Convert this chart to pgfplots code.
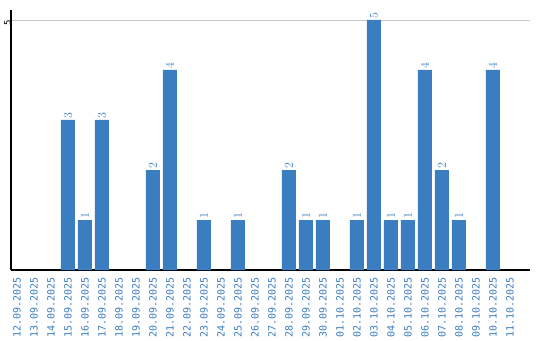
\documentclass[border=0pt]{standalone}
\usepackage{fontspec}
\setmonofont{DejaVu Sans Mono}
\usepackage{pgfplots}
\pgfplotsset{compat=1.18}
\definecolor{barblue}{RGB}{58,125,193}
\begin{document}
\begin{tikzpicture}[x=1pt,y=1pt]
\useasboundingbox (0,0) rectangle (540,340);
\begin{axis}[
  at={(11pt,70pt)}, anchor=south west,
  scale only axis, width=519pt, height=260pt,
  xmin=-0.35, xmax=30.18, ymin=0, ymax=5.2,
  axis x line*=bottom, axis y line*=left,
  axis line style={black, line width=1.4pt},
  x axis line style={-}, y axis line style={-},
  major tick length=0pt,
  xtick={0,...,29},
  xticklabels={12.09.2025,13.09.2025,14.09.2025,15.09.2025,16.09.2025,17.09.2025,18.09.2025,19.09.2025,20.09.2025,21.09.2025,22.09.2025,23.09.2025,24.09.2025,25.09.2025,26.09.2025,27.09.2025,28.09.2025,29.09.2025,30.09.2025,01.10.2025,02.10.2025,03.10.2025,04.10.2025,05.10.2025,06.10.2025,07.10.2025,08.10.2025,09.10.2025,10.10.2025,11.10.2025},
  xticklabel style={rotate=90, anchor=east, text=barblue, font=\ttfamily\fontsize{10}{10}\selectfont, inner sep=0pt, xshift=-7pt},
  ytick={5}, yticklabels={5},
  yticklabel style={rotate=90, anchor=south, font=\ttfamily\fontsize{9}{9}\selectfont, inner sep=0pt, xshift=-2.5pt},
  ymajorgrids, grid style={gray!45, line width=0.8pt},
  ybar, bar width=14pt,
  nodes near coords={\ttfamily\fontsize{11.5}{11.5}\selectfont\pgfmathprintnumber{\pgfplotspointmeta}},
  nodes near coords style={rotate=90, anchor=west, text=barblue, inner sep=1.5pt},
  clip=false,
]
\addplot[fill=barblue, draw=none] coordinates {
(3,3) (4,1) (5,3) (8,2) (9,4) (11,1) (13,1) (16,2) (17,1) (18,1)
(20,1) (21,5) (22,1) (23,1) (24,4) (25,2) (26,1) (28,4)
};
\end{axis}
\end{tikzpicture}
\end{document}
